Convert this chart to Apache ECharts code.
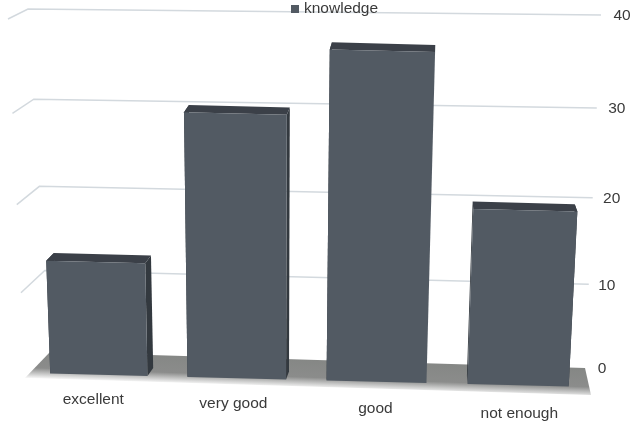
<!DOCTYPE html>
<html>
<head>
<meta charset="utf-8">
<style>
html, body { margin: 0; padding: 0; background: #fff; }
#chart { width: 634px; height: 425px; }
</style>
<script src="https://cdn.jsdelivr.net/npm/echarts@6/dist/echarts.min.js"></script>
</head>
<body>
<div id="chart"></div>
<script>
var categories = ['excellent', 'very good', 'good', 'not enough'];
var knowledge = [13, 29.8, 36.9, 20];
var valueTicks = [0, 10, 20, 30, 40];

var FONT = '"Liberation Sans", Arial, sans-serif';

// perspective planes, corners in order: bottom left, bottom right, top right, top left
var backWall = makePlane([50, 352], [585, 368], [601, 15], [28, 9]);
var frontFace = makePlane([30.5, 373], [589.5, 387], [608.5, 27], [16.5, 12]);
var rearFace = makePlane([38.5, 365], [586.5, 379], [605.5, 20], [24.5, 5]);

// maps the unit square onto a quad
function makePlane(p0, p1, p2, p3) {
  var dx1 = p1[0] - p2[0], dx2 = p3[0] - p2[0], sx = p0[0] - p1[0] + p2[0] - p3[0];
  var dy1 = p1[1] - p2[1], dy2 = p3[1] - p2[1], sy = p0[1] - p1[1] + p2[1] - p3[1];
  var den = dx1 * dy2 - dx2 * dy1;
  var g = (sx * dy2 - dx2 * sy) / den;
  var h = (dx1 * sy - sx * dy1) / den;
  return function (u, v) {
    var w = g * u + h * v + 1;
    return [
      ((p1[0] - p0[0] + g * p1[0]) * u + (p3[0] - p0[0] + h * p3[0]) * v + p0[0]) / w,
      ((p1[1] - p0[1] + g * p1[1]) * u + (p3[1] - p0[1] + h * p3[1]) * v + p0[1]) / w
    ];
  };
}

// grid pixel -> unit square
function toUnit(params, pt) {
  var cs = params.coordSys;
  return [(pt[0] - cs.x) / cs.width, (cs.y + cs.height - pt[1]) / cs.height];
}

// bars get a bit wider to the right, more than the plane alone gives
function warp(u) {
  return u + 0.027 * u * (u - 1);
}

function poly(points, fill) {
  return { type: 'polygon', shape: { points: points }, style: { fill: fill } };
}

function label(text, pos) {
  return {
    type: 'text',
    x: pos[0],
    y: pos[1],
    style: { text: text, fill: '#3a3a3a', font: '15.5px ' + FONT, align: 'center', verticalAlign: 'middle' }
  };
}

function renderGridLine(params, api) {
  var v = toUnit(params, api.coord([0, api.value(0)]))[1];
  var left = backWall(0, v);
  var right = backWall(1, v);
  // how far up the wall, for the short slanted stub on the left
  var t = (352 - left[1]) / 343;
  var stub = [25 - 17 * t, 378 - 359 * t];
  var children = [label(String(api.value(0)), [right[0] + 17 + 4 * v, right[1] + 1])];
  if (api.value(0) > 0) {
    children.unshift({
      type: 'polyline',
      shape: { points: [stub, left, right] },
      style: { fill: null, stroke: '#d3d9de', lineWidth: 1.5 }
    });
  }
  return { type: 'group', children: children };
}

function renderFloor(params, api) {
  var bl = backWall(0, 0);
  var br = backWall(1, 0);
  var fl = [25, 378];
  var fr = [591, 395];
  return {
    type: 'polygon',
    shape: { points: [bl, br, fr, fl] },
    style: {
      fill: new echarts.graphic.LinearGradient(300, 359, 299, 388, [
        { offset: 0, color: '#858785' },
        { offset: 0.62, color: '#8b8c8b' },
        { offset: 1, color: '#ffffff' }
      ], true)
    }
  };
}

function renderBar(params, api) {
  var i = api.value(0);
  var base = api.coord([i, 0]);
  var top = api.coord([i, api.value(1)]);
  var half = api.size([1, 0])[0] * 0.355;
  var u0 = warp(toUnit(params, [base[0] - half, base[1]])[0]);
  var u1 = warp(toUnit(params, [base[0] + half, base[1]])[0]);
  var v0 = toUnit(params, base)[1];
  var v1 = toUnit(params, top)[1];

  var fbl = frontFace(u0, v0), fbr = frontFace(u1, v0), ftr = frontFace(u1, v1), ftl = frontFace(u0, v1);
  var rbl = rearFace(u0, v0), rbr = rearFace(u1, v0), rtr = rearFace(u1, v1), rtl = rearFace(u0, v1);

  return {
    type: 'group',
    children: [
      poly([fbl, rbl, rtl, ftl], '#33393f'),
      poly([fbr, rbr, rtr, ftr], '#33393f'),
      poly([ftl, rtl, rtr, ftr], '#3b4048'),
      poly([fbl, fbr, ftr, ftl], '#525a63')
    ]
  };
}

function renderCategory(params, api) {
  var i = api.value(0);
  var u = warp(toUnit(params, api.coord([i, 0]))[0]);
  // labels run along their own slanted row under the floor
  return label(categories[i], [24 + 568 * u, 397 + 19 * u]);
}

var chart = echarts.init(document.getElementById('chart'), null, { renderer: 'canvas' });
chart.setOption({
  animation: false,
  backgroundColor: '#ffffff',
  legend: {
    data: ['knowledge'],
    left: 291,
    top: 1,
    padding: 0,
    itemWidth: 8,
    itemHeight: 8,
    itemGap: 3,
    icon: 'rect',
    selectedMode: false,
    textStyle: { color: '#3a3a3a', fontSize: 15.5, fontFamily: FONT }
  },
  grid: { left: 20, right: 20, top: 20, bottom: 40 },
  xAxis: { type: 'category', data: categories, show: false },
  yAxis: { type: 'value', min: 0, max: 40, interval: 10, show: false },
  series: [
    {
      type: 'custom',
      z: 1,
      silent: true,
      clip: false,
      encode: { x: 1, y: 0 },
      data: valueTicks.map(function (v) { return [v, 0]; }),
      renderItem: renderGridLine
    },
    {
      type: 'custom',
      z: 2,
      silent: true,
      clip: false,
      data: [[0, 0]],
      renderItem: renderFloor
    },
    {
      name: 'knowledge',
      type: 'custom',
      z: 3,
      silent: true,
      clip: false,
      itemStyle: { color: '#525a63' },
      encode: { x: 0, y: 1 },
      data: knowledge.map(function (v, i) { return [i, v]; }),
      renderItem: renderBar
    },
    {
      type: 'custom',
      z: 3,
      silent: true,
      clip: false,
      encode: { x: 0, y: 1 },
      data: categories.map(function (c, i) { return [i, 0]; }),
      renderItem: renderCategory
    }
  ]
});
</script>
</body>
</html>
